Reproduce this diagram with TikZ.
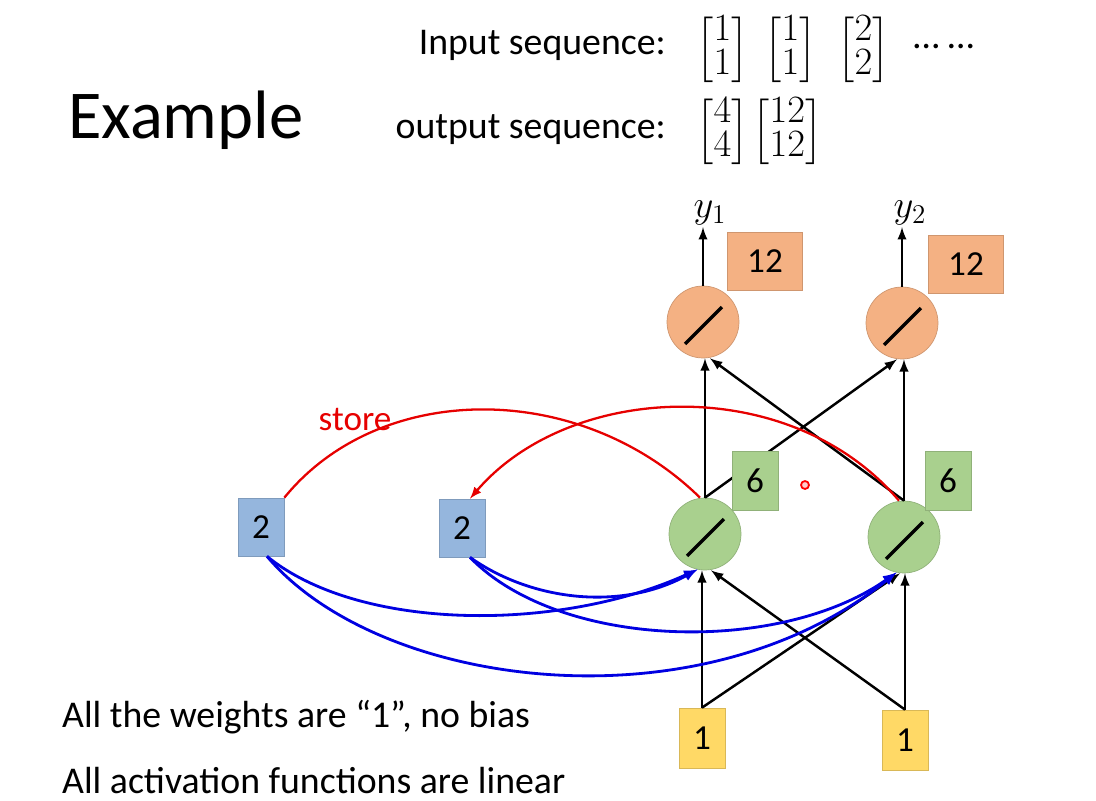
\RequirePackage{fix-cm}
\documentclass[tikz,border=0pt]{standalone}
\usepackage{amsmath}
\usepackage{fontspec}
\setmainfont{Carlito}
\definecolor{memblue}{RGB}{149,182,221}
\definecolor{greenu}{RGB}{169,208,142}
\definecolor{orangeu}{RGB}{244,177,131}
\definecolor{inyellow}{RGB}{255,217,102}
\definecolor{linkred}{RGB}{230,0,0}
\definecolor{linkblue}{RGB}{0,0,225}
\begin{document}
\begin{tikzpicture}[x=0.02cm, y=-0.02cm, >=latex,
    neuron/.style={circle, draw=#1!85!black, fill=#1, minimum size=1.44cm, path picture={\draw[black, line width=2pt] ([shift={(-0.36cm,-0.44cm)}]path picture bounding box.center) -- ++(0.74cm,0.74cm);}},
    cell/.style={draw=#1!85!black, fill=#1, minimum width=0.92cm, minimum height=1.16cm, inner sep=0pt, font=\fontsize{20}{24}\selectfont},
    txt/.style={font=\fontsize{21.5}{26}\selectfont},
    mat/.style={font=\fontsize{22}{18}\selectfont, anchor=west, inner sep=0pt},
    wire/.style={->, line width=1.4pt},
    feed/.style={->, line width=1.6pt, draw=linkblue},
    keep/.style={line width=1.3pt, draw=linkred}]
    \useasboundingbox (0,0) rectangle (1096,801);
    \node[anchor=west, font=\fontsize{39}{46}\selectfont] (title) at (62,120) {Example};
    \node[txt, anchor=east] (inlbl) at (672,45) {Input sequence:};
    \node[txt, anchor=east] (outlbl) at (672,130) {output sequence:};
    \node[mat] (in1) at (696,50) {$\begin{bmatrix}1\\1\end{bmatrix}$};
    \node[mat] (in2) at (764,50) {$\begin{bmatrix}1\\1\end{bmatrix}$};
    \node[mat] (in3) at (837,50) {$\begin{bmatrix}2\\2\end{bmatrix}$};
    \node[txt, anchor=base west, inner sep=0pt] (dots) at (913,49) {… …};
    \node[mat] (out1) at (696,132) {$\begin{bmatrix}4\\4\end{bmatrix}$};
    \node[mat] (out2) at (752,132) {$\begin{bmatrix}12\\12\end{bmatrix}$};
    \node[txt, anchor=west] (note1) at (56,717) {All the weights are “1”, no bias};
    \node[txt, anchor=west] (note2) at (56,781) {All activation functions are linear};
    \node[neuron=orangeu] (o1) at (703,322) {};
    \node[neuron=orangeu] (o2) at (902,323) {};
    \node[neuron=greenu] (g1) at (705,534) {};
    \node[neuron=greenu] (g2) at (904,537) {};
    \node[cell=memblue] (b1) at (261,527) {2};
    \node[cell=memblue] (b2) at (462,528) {2};
    \node[cell=inyellow, minimum height=1.2cm] (x1) at (702,738) {1};
    \node[cell=inyellow, minimum height=1.2cm] (x2) at (905,740) {1};
    \node[font=\fontsize{22}{24}\selectfont, inner sep=1pt] (t1) at (710,213) {$y_1$};
    \node[font=\fontsize{22}{24}\selectfont, inner sep=1pt] (t2) at (910,213) {$y_2$};
    \node[text=linkred, font=\fontsize{20}{24}\selectfont] (store) at (355,420) {store};
    \draw[wire] (x1.north) -- (x1.north |- g1.south);
    \draw[wire] (x1.north) -- ([xshift=-0.08cm]g2.south);
    \draw[wire] (x2.north) -- (x2.north |- g2.south);
    \draw[wire] (x2.north) -- ([xshift=0.12cm]g1.south);
    \draw[wire] (g1.north) -- (g1.north |- o1.south);
    \draw[wire] (g1.north) -- ([xshift=-0.1cm]o2.south);
    \draw[wire] (g2.north) -- (g2.north |- o2.south);
    \draw[wire] (g2.north) -- ([xshift=0.14cm]o1.south);
    \draw[wire] (o1.north) -- (o1.north |- t1.south);
    \draw[wire] (o2.north) -- (o2.north |- t2.south);
    \draw[keep] (b1.north east) .. controls (380,380) and (580,380) .. ([xshift=-0.1cm]g1.north);
    \draw[keep, ->] ([xshift=-0.1cm]g2.north) .. controls (790,372) and (570,382) .. ([xshift=0.16cm]b2.north);
    \draw[feed] ([xshift=0.12cm]b1.south) .. controls (360,632) and (560,632) .. (g1.258);
    \draw[feed] ([xshift=0.12cm]b1.south) .. controls (380,690) and (700,730) .. (g2.258);
    \draw[feed] ([xshift=0.16cm]b2.south) .. controls (530,600) and (620,612) .. (g1.258);
    \draw[feed] ([xshift=0.16cm]b2.south) .. controls (560,650) and (780,655) .. (g2.258);
    \node[cell=greenu, minimum height=1.18cm] (v1) at (755,481) {6};
    \node[cell=greenu, minimum height=1.18cm] (v2) at (948,481) {6};
    \node[cell=orangeu, minimum width=1.5cm] (w1) at (765,261) {12};
    \node[cell=orangeu, minimum width=1.5cm] (w2) at (966,264) {12};
    \draw[red, fill=red!20, line width=1pt] (805,485) circle (4);
\end{tikzpicture}
\end{document}
